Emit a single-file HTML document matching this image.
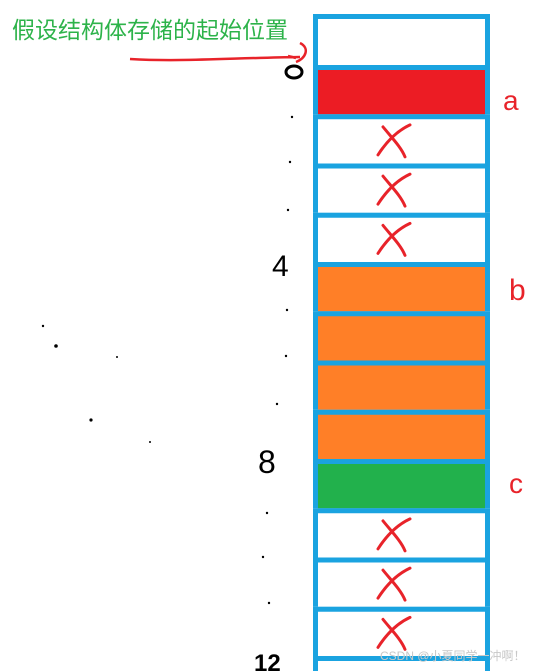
<!DOCTYPE html>
<html><head><meta charset="utf-8">
<style>
html,body{margin:0;padding:0;background:#fff;width:541px;height:671px;overflow:hidden}
svg{display:block}
text{font-family:"Liberation Sans","Noto Sans CJK SC",sans-serif}
</style></head>
<body>
<svg id="s" width="541" height="671" viewBox="0 0 541 671">
  <text x="12" y="38" font-size="23" fill="#2db34a">假设结构体存储的起始位置</text>
  <path d="M130 59 C180 62 230 58 300 57 M300 43 C310 48 306 58 296 62 M296 58 L288 56" stroke="#e8232a" stroke-width="2.5" fill="none"/>
  <ellipse cx="294" cy="72" rx="8" ry="6" stroke="#000" stroke-width="3" fill="none"/>
  <text x="272" y="276" font-size="30" fill="#000">4</text>
  <text x="258" y="473" font-size="32" fill="#000">8</text>
  <text x="254" y="671" font-size="24" font-weight="bold" fill="#000">12</text>
  <text x="503" y="110" font-size="28" fill="#e8232a">a</text>
  <text x="509" y="300" font-size="30" fill="#e8232a">b</text>
  <text x="509" y="493" font-size="28" fill="#e8232a">c</text>
  <g id="dots" fill="#000">
    <circle cx="292" cy="117" r="1.2"/><circle cx="290" cy="162" r="1.2"/><circle cx="288" cy="210" r="1.2"/>
    <circle cx="287" cy="310" r="1.2"/><circle cx="286" cy="356" r="1.2"/><circle cx="277" cy="404" r="1.2"/>
    <circle cx="43" cy="326" r="1.2"/><circle cx="56" cy="346" r="1.8"/><circle cx="117" cy="357" r="1"/>
    <circle cx="91" cy="420" r="1.6"/><circle cx="150" cy="442" r="1"/>
    <circle cx="267" cy="513" r="1.2"/><circle cx="263" cy="557" r="1.2"/><circle cx="269" cy="603" r="1.2"/>
  </g>
  <g id="rows"></g>
  <text x="380" y="660" font-size="12" fill="#c8c8c8">CSDN @小夏同学一冲啊！</text>
</svg>
<script>
// byte kinds from offset -1 (pre-start) through 12
const rowKinds = ["empty","a","pad","pad","pad","b","b","b","b","c","pad","pad","pad","empty"];
const kindColors = {empty:"#ffffff",pad:"#ffffff",a:"#ec1c24",b:"#ff7f27",c:"#22b14c"};
const top0 = 14, sepStart = 65, pitch = 49.25, left = 313, right = 490, bw = 5, H = 671;
const g = document.getElementById('rows');
const NS = "http://www.w3.org/2000/svg";
function rowY(i){ return i === 0 ? top0 : sepStart + (i-1)*pitch; }
rowKinds.forEach((k,i)=>{
  const y0 = rowY(i), y1 = Math.min(rowY(i+1), H);
  if (y0 >= H) return;
  const r = document.createElementNS(NS,'rect');
  
  
  r.setAttribute('x', left); r.setAttribute('y', y0);
  r.setAttribute('width', right-left); r.setAttribute('height', y1-y0);
  r.setAttribute('fill', '#1aa3e0');
  g.appendChild(r);
  const f = document.createElementNS(NS,'rect');
  
  
  f.setAttribute('x', left+bw); f.setAttribute('y', y0+bw);
  f.setAttribute('width', right-left-2*bw); f.setAttribute('height', Math.max(0, y1-y0-bw));
  f.setAttribute('fill', kindColors[k]);
  g.appendChild(f);
  if(k === "pad"){
    const cx = 395, cy = (y0+y1)/2 + 2;
    const p = document.createElementNS(NS,'path');
    
    
    p.setAttribute('d', `M${cx-12} ${cy-14} C${cx-4} ${cy-4} ${cx+6} ${cy+6} ${cx+10} ${cy+16} M${cx+15} ${cy-16} C${cx+2} ${cy-10} ${cx-8} ${cy} ${cx-17} ${cy+14}`);
    p.setAttribute('stroke', '#e8232a'); p.setAttribute('stroke-width', '3');
    p.setAttribute('fill', 'none'); p.setAttribute('stroke-linecap', 'round');
    g.appendChild(p);
  }
});
</script>
</body></html>
